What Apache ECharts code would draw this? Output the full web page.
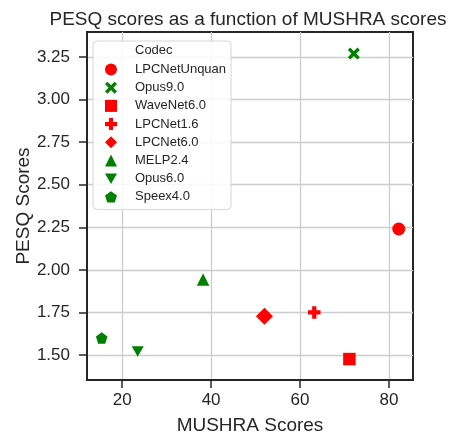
<!DOCTYPE html>
<html>
<head>
<meta charset="utf-8">
<script src="https://cdn.jsdelivr.net/npm/echarts@6/dist/echarts.min.js"></script>
<style>
  html, body { margin: 0; padding: 0; background: #fff; }
  #chart { width: 453px; height: 433px; }
</style>
</head>
<body>
<div id="chart"></div>
<script>
// data
const codecs = ['LPCNetUnquan', 'Opus9.0', 'WaveNet6.0', 'LPCNet1.6', 'LPCNet6.0', 'MELP2.4', 'Opus6.0', 'Speex4.0']
const mushra = [82.2, 72.1, 71.1, 63.2, 52.0, 38.2, 23.5, 15.4]
const pesq = [2.24, 3.27, 1.476, 1.75, 1.727, 1.944, 1.52, 1.60]
const xTicks = [20, 40, 60, 80]
const yTicks = [1.5, 1.75, 2.0, 2.25, 2.5, 2.75, 3.0, 3.25]

// marker styles (seaborn style: hue + style per codec)
const markerColor = ['#ff0000', '#008000', '#ff0000', '#ff0000', '#ff0000', '#008000', '#008000', '#008000']
const markerShape = [
  'circle',
  'path://M2,0L5,3L8,0L10,2L7,5L10,8L8,10L5,7L2,10L0,8L3,5L0,2Z',
  'rect',
  'path://M3.3,0H6.7V3.3H10V6.7H6.7V10H3.3V6.7H0V3.3H3.3Z',
  'diamond',
  'triangle',
  'path://M0,0H10L5,8.7Z',
  'path://M50,0L97.6,34.5L79.4,90.5L20.6,90.5L2.4,34.5Z'
]
const markerSize = [13, 12, 12.5, 12.5, 17, 12.5, [12, 10.5], 11.5]

const font = 'Liberation Sans, Arial, sans-serif'
const ink = '#262626'

const chart = echarts.init(document.getElementById('chart'))

let series = codecs.map((name, i) => ({
  name: name,
  type: 'scatter',
  z: 5,
  symbol: markerShape[i],
  symbolSize: markerSize[i],
  itemStyle: { color: markerColor[i], opacity: 1 },
  data: [[mushra[i], pesq[i]]]
}))

// grid lines at the tick values
series.push({
  type: 'scatter',
  z: 0,
  silent: true,
  data: [],
  markLine: {
    silent: true,
    z: 0,
    symbol: 'none',
    label: { show: false },
    animation: false,
    lineStyle: { color: '#cccccc', width: 1.3, type: 'solid' },
    data: xTicks.map(v => ({ xAxis: v })).concat(yTicks.map(v => ({ yAxis: v })))
  }
})

chart.setOption({
  animation: false,
  backgroundColor: '#fff',
  title: {
    text: 'PESQ scores as a function of MUSHRA scores',
    left: 243,
    top: 5,
    textAlign: 'center',
    textStyle: { fontFamily: font, fontSize: 19, fontWeight: 'normal', color: ink }
  },
  grid: {
    left: 87, right: 40, top: 32, bottom: 53,
    outerBoundsMode: 'none',
    containLabel: false,
    show: true, borderColor: ink, borderWidth: 2
  },
  legend: {
    orient: 'vertical',
    z: 20,
    left: 93,
    top: 41,
    padding: [22, 5, 6, 12],
    itemWidth: 12,
    itemHeight: 12,
    itemGap: 5.2,
    backgroundColor: 'rgba(255,255,255,0.85)',
    borderColor: '#d6d6d6',
    borderWidth: 1,
    borderRadius: 4,
    itemStyle: { opacity: 1 },
    textStyle: { fontFamily: font, fontSize: 13, lineHeight: 13, color: ink, padding: [0, 0, 0, 13] },
    data: codecs
  },
  graphic: [{
    type: 'text',
    left: 135,
    top: 44,
    z: 100,
    style: { text: 'Codec', fontFamily: font, fontSize: 13, fill: ink }
  }],
  xAxis: {
    type: 'value',
    min: 12.1,
    max: 85.4,
    name: 'MUSHRA Scores',
    nameLocation: 'middle',
    nameGap: 36,
    nameMoveOverlap: false,
    nameTextStyle: { fontFamily: font, fontSize: 19, color: ink },
    splitLine: { show: false },
    axisLine: { show: true, lineStyle: { color: ink, width: 2 } },
    axisTick: { show: true, length: 8, customValues: xTicks, lineStyle: { color: ink, width: 1.5 } },
    axisLabel: { customValues: xTicks, margin: 12, fontFamily: font, fontSize: 17, color: ink }
  },
  yAxis: {
    type: 'value',
    min: 1.353,
    max: 3.397,
    name: 'PESQ Scores',
    nameLocation: 'middle',
    nameGap: 54,
    nameMoveOverlap: false,
    nameTextStyle: { fontFamily: font, fontSize: 19, color: ink },
    splitLine: { show: false },
    axisLine: { show: true, lineStyle: { color: ink, width: 2 } },
    axisTick: { show: true, length: 8, customValues: yTicks, lineStyle: { color: ink, width: 1.5 } },
    axisLabel: {
      customValues: yTicks, margin: 17, fontFamily: font, fontSize: 17, color: ink,
      formatter: v => v.toFixed(2)
    }
  },
  series: series
})
</script>
</body>
</html>
